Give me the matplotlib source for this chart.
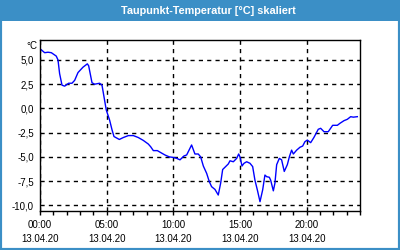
import matplotlib
matplotlib.use('Agg')
import matplotlib.pyplot as plt
from matplotlib.patches import Rectangle
import numpy as np

# hours since 00:00 on 13.04.20, dew point in degC
hours = [0.05, 0.35, 0.6, 0.85, 1.22, 1.35, 1.47, 1.65, 1.85, 2.15, 2.4, 2.6, 2.85, 3.22,
         3.55, 3.65, 3.9, 4.1, 4.47, 4.65, 4.8, 4.97, 5.22, 5.4, 5.55, 5.95, 6.25, 6.63,
         7.0, 7.37, 7.75, 8.12, 8.3, 8.5, 8.8, 9.05, 9.37, 9.7, 10.0, 10.25, 10.5, 10.8,
         11.0, 11.37, 11.62, 11.87, 12.05, 12.25, 12.5, 12.7, 12.87, 13.12, 13.37, 13.55,
         13.7, 13.87, 14.12, 14.25, 14.5, 14.75, 14.9, 15.0, 15.15, 15.3, 15.5, 15.75,
         15.95, 16.12, 16.3, 16.5, 16.7, 16.87, 17.0, 17.2, 17.3, 17.5, 17.62, 17.75,
         17.95, 18.12, 18.32, 18.55, 18.7, 18.87, 19.0, 19.25, 19.5, 19.7, 19.87, 20.05,
         20.3, 20.55, 20.87, 21.05, 21.3, 21.62, 21.95, 22.3, 22.5, 22.8, 23.05, 23.3,
         23.5, 23.8]
dewpoint = [6.1, 5.75, 5.8, 5.75, 5.4, 5.0, 3.6, 2.4, 2.3, 2.6, 2.6, 2.9, 3.7, 4.25,
            4.6, 4.4, 2.65, 2.5, 2.6, 2.4, 1.2, -0.16, -1.2, -2.2, -2.9, -3.2, -3.0, -2.8,
            -2.8, -3.0, -3.3, -3.67, -3.95, -4.35, -4.35, -4.55, -4.8, -5.0, -5.05, -5.15,
            -5.3, -4.9, -4.8, -3.77, -4.7, -4.7, -5.0, -5.94, -6.7, -7.56, -8.07, -8.35,
            -8.93, -7.7, -6.3, -6.07, -5.73, -5.4, -5.5, -5.15, -4.7, -5.0, -5.94, -5.66,
            -5.5, -5.66, -6.0, -7.4, -8.4, -9.62, -8.4, -6.87, -7.04, -7.1, -7.4, -8.5,
            -7.7, -5.8, -5.15, -5.3, -6.5, -5.8, -5.0, -4.3, -4.7, -4.3, -4.0, -3.88,
            -3.43, -3.26, -3.53, -2.98, -2.15, -2.05, -2.4, -2.4, -1.74, -1.74, -1.53,
            -1.26, -1.12, -0.85, -0.9, -0.85]

x_ticks = [0, 5, 10, 15, 20]
x_labels = ['00:00\n13.04.20', '05:00\n13.04.20', '10:00\n13.04.20',
            '15:00\n13.04.20', '20:00\n13.04.20']
y_ticks = [5.0, 2.5, 0.0, -2.5, -5.0, -7.5, -10.0]
y_labels = ['5,0', '2,5', '0,0', '-2,5', '-5,0', '-7,5', '-10,0']

title = 'Taupunkt-Temperatur [°C] skaliert'
bar_blue = '#3b8fc6'

plt.rcParams['font.family'] = ['Liberation Sans', 'DejaVu Sans']

fig = plt.figure(figsize=(4, 2.5), dpi=100)
fig.patch.set_facecolor('white')

# window frame and title bar
fig.patches.append(Rectangle((0, 0), 1, 1, transform=fig.transFigure,
                             facecolor='white', edgecolor=bar_blue, linewidth=3, zorder=-5))
fig.patches.append(Rectangle((0, 1 - 21 / 250), 1, 21 / 250, transform=fig.transFigure,
                             facecolor=bar_blue, edgecolor='none', zorder=-4))
fig.text(0.52, 1 - 10.5 / 250, title, color='white', fontsize=7.8, fontweight='bold',
         ha='center', va='center')

ax = fig.add_axes([0.1, 1 - 211 / 250, 0.8, 171 / 250])
ax.set_zorder(2)
ax.plot(hours, dewpoint, color='#0000ff', linewidth=1)

ax.set_xlim(0, 24)
ax.set_ylim(-10.58, 7.06)
ax.set_xticks(x_ticks)
ax.set_xticklabels(x_labels, fontsize=7, linespacing=1.5)
ax.set_xticks(np.arange(0, 25, 1), minor=True)
ax.set_yticks(y_ticks)
ax.set_yticklabels(y_labels, fontsize=7)

ax.tick_params(axis='x', which='both', direction='out', length=3, width=1, color='black')
ax.tick_params(axis='x', which='major', pad=3.5)
ax.tick_params(axis='y', length=0, pad=4.5)

ax.grid(True, which='major', color='black', linestyle=(0, (3, 3)), linewidth=1)
for s in ax.spines.values():
    s.set_color('black')
    s.set_linewidth(1)

ax.text(-0.008, 1 - 6 / 171, '°C', transform=ax.transAxes, fontsize=7,
        ha='right', va='center')

fig.savefig('out.png', dpi=100)
